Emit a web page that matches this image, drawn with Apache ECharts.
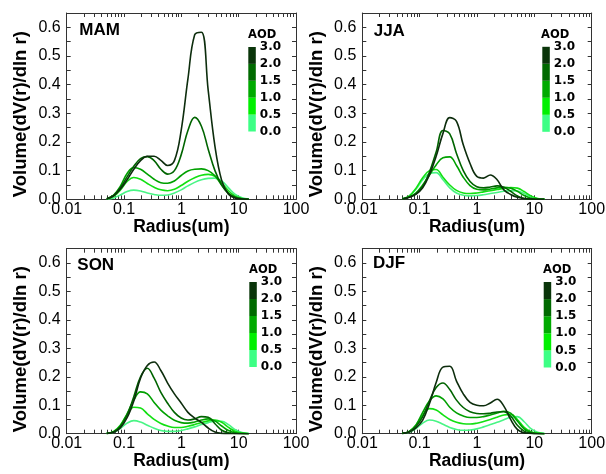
<!DOCTYPE html>
<html>
<head>
<meta charset="utf-8">
<script src="https://cdn.jsdelivr.net/npm/echarts@6/dist/echarts.min.js"></script>
<style>
  html, body { margin: 0; padding: 0; background: #ffffff; }
  #chart { width: 606px; height: 474px; }
</style>
</head>
<body>
<div id="chart"></div>
<script>
// Particle radius bins (um)
const radius = [0.050, 0.066, 0.086, 0.113, 0.148, 0.194, 0.255, 0.335, 0.439, 0.576, 0.756,
                0.992, 1.302, 1.708, 2.241, 2.940, 3.857, 5.051, 6.641, 8.713, 11.432, 15.000];

const seasons = ['MAM', 'JJA', 'SON', 'DJF'];
const aodClasses = ['0.0-0.5', '0.5-1.0', '1.0-1.5', '1.5-2.0', '2.0-3.0'];
const aodTickLabels = ['0.0', '0.5', '1.0', '1.5', '2.0', '3.0'];
const aodBandSlots = [1, 1, 1, 1, 1];
const xTickLabels = ['0.01', '0.1', '1', '10', '100'];
const yTickLabels = ['0.0', '0.1', '0.2', '0.3', '0.4', '0.5', '0.6'];

// Volume size distributions dV(r)/dln r, one array per season and AOD class
const mamAod00 = [0.001, 0.005, 0.015, 0.027, 0.032, 0.029, 0.022, 0.017, 0.014, 0.015, 0.022, 0.033, 0.047, 0.059, 0.068, 0.073, 0.074, 0.064, 0.040, 0.017, 0.005, 0.001];
const mamAod05 = [0.001, 0.010, 0.032, 0.062, 0.076, 0.070, 0.055, 0.042, 0.033, 0.030, 0.035, 0.048, 0.063, 0.075, 0.084, 0.087, 0.080, 0.058, 0.030, 0.011, 0.003, 0.000];
const mamAod10 = [0.002, 0.015, 0.045, 0.090, 0.111, 0.105, 0.088, 0.070, 0.058, 0.056, 0.064, 0.083, 0.099, 0.105, 0.106, 0.100, 0.082, 0.050, 0.022, 0.007, 0.002, 0.000];
const mamAod15 = [0.002, 0.014, 0.040, 0.078, 0.115, 0.142, 0.149, 0.135, 0.105, 0.088, 0.100, 0.155, 0.240, 0.286, 0.255, 0.175, 0.100, 0.050, 0.020, 0.007, 0.002, 0.000];
const mamAod20 = [0.002, 0.012, 0.035, 0.068, 0.105, 0.135, 0.150, 0.150, 0.136, 0.118, 0.135, 0.240, 0.420, 0.574, 0.583, 0.380, 0.185, 0.066, 0.018, 0.004, 0.001, 0.000];

const jjaAod00 = [0.002, 0.011, 0.035, 0.068, 0.090, 0.093, 0.068, 0.040, 0.022, 0.014, 0.012, 0.013, 0.016, 0.020, 0.024, 0.028, 0.030, 0.029, 0.020, 0.009, 0.002, 0.000];
const jjaAod05 = [0.002, 0.012, 0.038, 0.075, 0.100, 0.104, 0.077, 0.050, 0.031, 0.022, 0.020, 0.022, 0.026, 0.030, 0.034, 0.038, 0.041, 0.039, 0.027, 0.012, 0.003, 0.000];
const jjaAod10 = [0.001, 0.008, 0.022, 0.050, 0.085, 0.120, 0.145, 0.148, 0.118, 0.077, 0.048, 0.035, 0.033, 0.036, 0.040, 0.042, 0.039, 0.028, 0.013, 0.004, 0.001, 0.000];
const jjaAod15 = [0.001, 0.008, 0.020, 0.045, 0.095, 0.165, 0.240, 0.228, 0.160, 0.100, 0.062, 0.044, 0.040, 0.043, 0.047, 0.042, 0.028, 0.012, 0.003, 0.001, 0.000, 0.000];
const jjaAod20 = [0.001, 0.007, 0.017, 0.040, 0.085, 0.150, 0.230, 0.285, 0.272, 0.190, 0.125, 0.080, 0.074, 0.085, 0.068, 0.033, 0.017, 0.007, 0.003, 0.001, 0.000, 0.000];

const sonAod00 = [0.001, 0.005, 0.018, 0.037, 0.046, 0.041, 0.030, 0.019, 0.011, 0.008, 0.008, 0.011, 0.017, 0.024, 0.032, 0.039, 0.044, 0.044, 0.032, 0.014, 0.004, 0.001];
const sonAod05 = [0.001, 0.008, 0.030, 0.067, 0.093, 0.090, 0.070, 0.050, 0.036, 0.027, 0.022, 0.022, 0.026, 0.032, 0.039, 0.045, 0.048, 0.040, 0.022, 0.008, 0.002, 0.000];
const sonAod10 = [0.001, 0.007, 0.027, 0.070, 0.118, 0.147, 0.140, 0.110, 0.083, 0.063, 0.047, 0.039, 0.037, 0.041, 0.048, 0.052, 0.045, 0.027, 0.011, 0.003, 0.001, 0.000];
const sonAod15 = [0.001, 0.006, 0.025, 0.065, 0.130, 0.200, 0.230, 0.195, 0.145, 0.107, 0.075, 0.055, 0.048, 0.052, 0.060, 0.058, 0.035, 0.012, 0.003, 0.001, 0.000, 0.000];
const sonAod20 = [0.001, 0.005, 0.020, 0.056, 0.115, 0.195, 0.240, 0.252, 0.222, 0.178, 0.140, 0.108, 0.075, 0.055, 0.040, 0.020, 0.006, 0.001, 0.000, 0.000, 0.000, 0.000];

const djfAod00 = [0.001, 0.005, 0.018, 0.037, 0.048, 0.044, 0.033, 0.022, 0.015, 0.012, 0.013, 0.017, 0.024, 0.032, 0.040, 0.049, 0.058, 0.060, 0.042, 0.018, 0.005, 0.001];
const djfAod05 = [0.001, 0.008, 0.030, 0.065, 0.088, 0.083, 0.066, 0.050, 0.040, 0.035, 0.034, 0.037, 0.043, 0.050, 0.058, 0.066, 0.068, 0.050, 0.022, 0.007, 0.002, 0.000];
const djfAod10 = [0.001, 0.008, 0.030, 0.075, 0.115, 0.133, 0.122, 0.093, 0.073, 0.062, 0.057, 0.057, 0.060, 0.066, 0.073, 0.079, 0.072, 0.045, 0.017, 0.005, 0.001, 0.000];
const djfAod15 = [0.001, 0.007, 0.025, 0.060, 0.115, 0.162, 0.178, 0.155, 0.118, 0.092, 0.077, 0.071, 0.070, 0.072, 0.076, 0.077, 0.062, 0.030, 0.009, 0.002, 0.000, 0.000];
const djfAod20 = [0.001, 0.006, 0.020, 0.048, 0.105, 0.180, 0.234, 0.237, 0.185, 0.140, 0.110, 0.100, 0.098, 0.108, 0.121, 0.097, 0.050, 0.015, 0.003, 0.001, 0.000, 0.000];

const seasonCurves = {
  MAM: [mamAod00, mamAod05, mamAod10, mamAod15, mamAod20],
  JJA: [jjaAod00, jjaAod05, jjaAod10, jjaAod15, jjaAod20],
  SON: [sonAod00, sonAod05, sonAod10, sonAod15, sonAod20],
  DJF: [djfAod00, djfAod05, djfAod10, djfAod15, djfAod20]
};

// Styling
const lineColors = ['#48f584', '#12e012', '#00a000', '#006400', '#0d2d0d'];
const bandColors = ['#3dff85', '#00f000', '#00aa00', '#006a00', '#0a350a'];
const sansFont = '"Liberation Sans", Arial, sans-serif';
const barFont = '"DejaVu Sans", Verdana, sans-serif';
const frameColor = '#333333';

// Panel layout in pixels
const layout = [
  { plot: { left: 66.7, top: 13, width: 229.3, height: 186.3 }, bar: { left: 248.3, top: 47, height: 84.5 }, tag: { left: 79.3, top: 21.5 }, aod: { left: 248, top: 29.5 } },
  { plot: { left: 362.3, top: 13, width: 229.4, height: 186.3 }, bar: { left: 542.3, top: 46.8, height: 85 }, tag: { left: 373.7, top: 23 }, aod: { left: 541, top: 28.8 } },
  { plot: { left: 66.7, top: 248.7, width: 229.3, height: 185 }, bar: { left: 249.3, top: 282, height: 85 }, tag: { left: 77.3, top: 256.8 }, aod: { left: 249, top: 264.5 } },
  { plot: { left: 362.3, top: 248.7, width: 229.4, height: 185 }, bar: { left: 543.7, top: 282, height: 85.5 }, tag: { left: 373, top: 254.5 }, aod: { left: 543, top: 264.5 } }
];

// Log-axis tick positions: 1..9 x each decade
const xTickValues = [];
for (let e = -2; e <= 1; e++) {
  for (let m = 1; m <= 9; m++) xTickValues.push(+(m * Math.pow(10, e)).toPrecision(3));
}
xTickValues.push(100);
const xLabelValues = [0.01, 0.1, 1, 10, 100];

const grids = [], xAxes = [], yAxes = [], series = [], titles = [];
const lineStyleFrame = { color: frameColor, width: 1 };

seasons.forEach((season, p) => {
  const L = layout[p];
  grids.push(Object.assign({ outerBoundsMode: 'none', containLabel: false }, L.plot));

  // bottom (labelled) and top (frame) log axes
  xAxes.push({
    type: 'log', logBase: 10, gridIndex: p, position: 'bottom', min: 0.01, max: 100,
    axisLine: { show: true, onZero: false, lineStyle: lineStyleFrame },
    axisTick: { show: true, inside: true, length: 4, customValues: xTickValues, lineStyle: lineStyleFrame },
    axisLabel: {
      show: true, customValues: xLabelValues, margin: 2, color: '#000', fontSize: 16, fontFamily: sansFont,
      formatter: v => xTickLabels[Math.round(Math.log10(v)) + 2]
    },
    splitLine: { show: false },
    name: 'Radius(um)', nameLocation: 'middle', nameGap: 15,
    nameTextStyle: { fontSize: 17.5, fontWeight: 'bold', color: '#000', fontFamily: sansFont }
  });
  xAxes.push({
    type: 'log', logBase: 10, gridIndex: p, position: 'top', min: 0.01, max: 100,
    axisLine: { show: true, onZero: false, lineStyle: lineStyleFrame },
    axisTick: { show: true, inside: true, length: 4, customValues: xTickValues, lineStyle: lineStyleFrame },
    axisLabel: { show: false }, splitLine: { show: false }
  });

  // left (labelled) and right (frame) value axes
  yAxes.push({
    type: 'value', gridIndex: p, position: 'left', min: 0, max: 0.65, interval: 0.1,
    axisLine: { show: true, onZero: false, lineStyle: lineStyleFrame },
    axisTick: { show: true, inside: true, length: 4, lineStyle: lineStyleFrame },
    minorTick: { show: true, splitNumber: 2, length: 4, lineStyle: lineStyleFrame },
    splitLine: { show: false },
    axisLabel: {
      margin: 6, color: '#000', fontSize: 16, fontFamily: sansFont,
      formatter: v => {
        const i = Math.round(v * 10);
        return Math.abs(v * 10 - i) < 1e-6 && i < yTickLabels.length ? yTickLabels[i] : '';
      }
    },
    name: 'Volume(dV(r)/dln r)', nameLocation: 'middle', nameGap: 36, nameRotate: 90,
    nameTextStyle: { fontSize: 18.5, fontWeight: 'bold', color: '#000', fontFamily: sansFont, padding: [0, 16, 0, 0] }
  });
  yAxes.push({
    type: 'value', gridIndex: p, position: 'right', min: 0, max: 0.65, interval: 0.1,
    axisLine: { show: true, onZero: false, lineStyle: lineStyleFrame },
    axisTick: { show: true, inside: true, length: 4, lineStyle: lineStyleFrame },
    minorTick: { show: true, splitNumber: 2, length: 4, lineStyle: lineStyleFrame },
    splitLine: { show: false }, axisLabel: { show: false }
  });

  // size distribution curves, lightest first so the dark ones draw on top
  seasonCurves[season].forEach((vals, k) => {
    series.push({
      type: 'line', name: season + ' AOD ' + aodClasses[k],
      xAxisIndex: 2 * p, yAxisIndex: 2 * p,
      data: radius.map((r, i) => [r, vals[i]]),
      smooth: 0.4, showSymbol: false, symbol: 'none',
      lineStyle: { color: lineColors[k], width: 1.6 },
      z: 2 + k
    });
  });

  titles.push({
    text: season, left: L.tag.left, top: L.tag.top, padding: 0,
    textStyle: { fontSize: 17, fontWeight: 'bold', color: '#000', fontFamily: sansFont, lineHeight: 17 }
  });
  titles.push({
    text: 'AOD', left: L.aod.left, top: L.aod.top, padding: 0,
    textStyle: { fontSize: 11.5, fontWeight: 'bold', color: '#000', fontFamily: barFont, lineHeight: 12 }
  });
});

// colour bars
seasons.forEach((season, p) => {
  const L = layout[p];
  grids.push({ outerBoundsMode: 'none', containLabel: false, left: L.bar.left, top: L.bar.top, width: 7.5, height: L.bar.height });
  xAxes.push({
    type: 'category', gridIndex: 4 + p, data: ['AOD'], show: false
  });
  yAxes.push({
    type: 'value', gridIndex: 4 + p, position: 'right', min: 0, max: aodBandSlots.length, interval: 1,
    axisLine: { show: false }, axisTick: { show: false }, splitLine: { show: false },
    axisLabel: {
      margin: 4, color: '#000', fontSize: 12, fontWeight: 'bold', fontFamily: barFont, padding: [6, 0, 0, 0],
      formatter: v => aodTickLabels[Math.round(v)]
    }
  });
  aodBandSlots.forEach((slot, k) => {
    series.push({
      type: 'bar', name: 'AOD ' + aodClasses[k], stack: 'aod' + p,
      xAxisIndex: 8 + p, yAxisIndex: 8 + p,
      data: [slot], barWidth: '100%',
      itemStyle: { color: bandColors[k] }, silent: true
    });
  });
});

const chart = echarts.init(document.getElementById('chart'), null, { renderer: 'canvas' });
chart.setOption({
  animation: false,
  backgroundColor: '#ffffff',
  title: titles,
  grid: grids,
  xAxis: xAxes,
  yAxis: yAxes,
  series: series
});
</script>
</body>
</html>
